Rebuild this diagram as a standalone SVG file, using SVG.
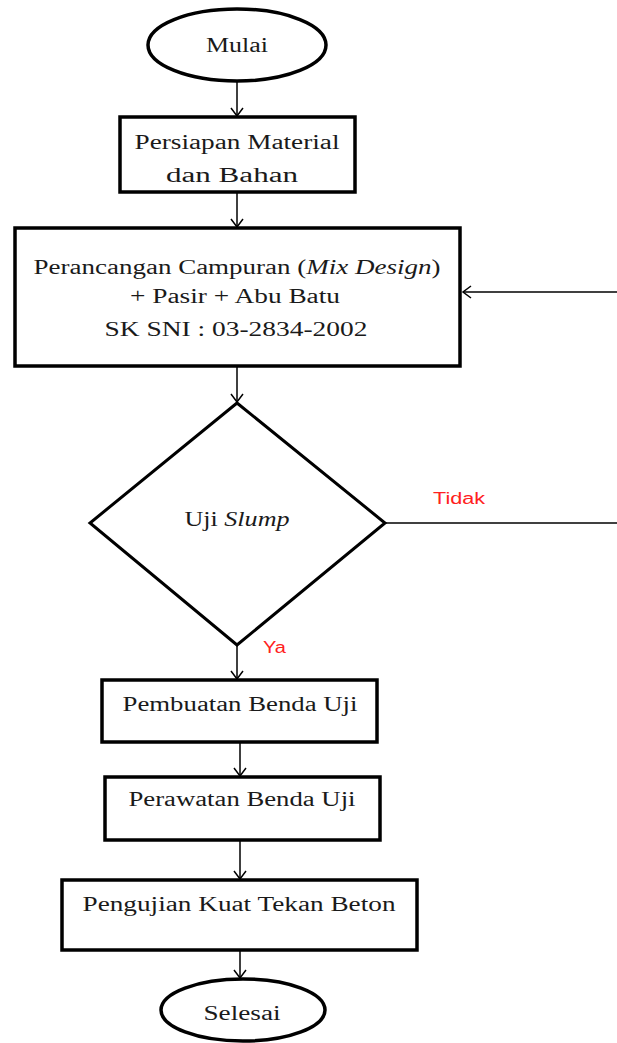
<svg xmlns="http://www.w3.org/2000/svg" width="617" height="1043" viewBox="0 0 617 1043">
<style>
.shape{fill:#fff;stroke:#000;stroke-width:3.5}
.dia{fill:#fff;stroke:#000;stroke-width:3}
.t{font-family:"Liberation Serif","Times New Roman",serif;font-size:20px;fill:#1a1a1a;text-anchor:middle}
.lbl{font-family:"Liberation Sans",Arial,sans-serif;font-size:16px;fill:#ff2020}
.c{fill:none;stroke:#000;stroke-width:1.5}
</style>
<defs>
<marker id="ah" markerUnits="userSpaceOnUse" markerWidth="16" markerHeight="16" refX="11" refY="7" orient="auto">
<path d="M3,1 L11,7 L3,13" fill="none" stroke="#000" stroke-width="1.5"/>
</marker>
</defs>
<rect width="617" height="1043" fill="#fff"/>
<g id="connectors">
<path class="c" d="M237,82 V116" marker-end="url(#ah)"/>
<path class="c" d="M237,192 V227" marker-end="url(#ah)"/>
<path class="c" d="M237,367 V402" marker-end="url(#ah)"/>
<path class="c" d="M237,645 V679" marker-end="url(#ah)"/>
<path class="c" d="M240,743 V776" marker-end="url(#ah)"/>
<path class="c" d="M240,841 V879" marker-end="url(#ah)"/>
<path class="c" d="M240,951 V978" marker-end="url(#ah)"/>
<path class="c" d="M385,523 H617"/>
<path class="c" d="M617,292 H463" marker-end="url(#ah)"/>
<text class="lbl" x="433" y="504" textLength="52" lengthAdjust="spacingAndGlyphs">Tidak</text>
<text class="lbl" x="263" y="653" textLength="23" lengthAdjust="spacingAndGlyphs">Ya</text>
</g>
<g id="n-mulai">
<ellipse class="shape" cx="237" cy="45" rx="89" ry="36"/>
<text class="t" x="237" y="52" textLength="62" lengthAdjust="spacingAndGlyphs">Mulai</text>
</g>
<g id="n-persiapan">
<rect class="shape" x="120" y="117" width="235" height="75"/>
<text class="t" x="237" y="149" textLength="205" lengthAdjust="spacingAndGlyphs">Persiapan Material</text>
<text class="t" x="232" y="182" textLength="132" lengthAdjust="spacingAndGlyphs">dan Bahan</text>
</g>
<g id="n-perancangan">
<rect class="shape" x="15" y="228" width="445" height="138"/>
<text class="t" x="237" y="274" textLength="407" lengthAdjust="spacingAndGlyphs">Perancangan Campuran (<tspan font-style="italic">Mix Design</tspan>)</text>
<text class="t" x="235" y="303" textLength="210" lengthAdjust="spacingAndGlyphs">+ Pasir + Abu Batu</text>
<text class="t" x="236" y="336" textLength="263" lengthAdjust="spacingAndGlyphs">SK SNI : 03-2834-2002</text>
</g>
<g id="n-slump">
<polygon class="dia" points="237,403 385,523 237,645 90,523"/>
<text class="t" x="237" y="526" textLength="105" lengthAdjust="spacingAndGlyphs">Uji <tspan font-style="italic">Slump</tspan></text>
</g>
<g id="n-pembuatan">
<rect class="shape" x="102" y="680" width="275" height="62"/>
<text class="t" x="240" y="711" textLength="235" lengthAdjust="spacingAndGlyphs">Pembuatan Benda Uji</text>
</g>
<g id="n-perawatan">
<rect class="shape" x="105" y="777" width="275" height="63"/>
<text class="t" x="242" y="806" textLength="227" lengthAdjust="spacingAndGlyphs">Perawatan Benda Uji</text>
</g>
<g id="n-pengujian">
<rect class="shape" x="62" y="880" width="355" height="70"/>
<text class="t" x="239" y="911" textLength="313" lengthAdjust="spacingAndGlyphs">Pengujian Kuat Tekan Beton</text>
</g>
<g id="n-selesai">
<ellipse class="shape" cx="243" cy="1010" rx="82" ry="31"/>
<text class="t" x="242" y="1020" textLength="77" lengthAdjust="spacingAndGlyphs">Selesai</text>
</g>
</svg>
